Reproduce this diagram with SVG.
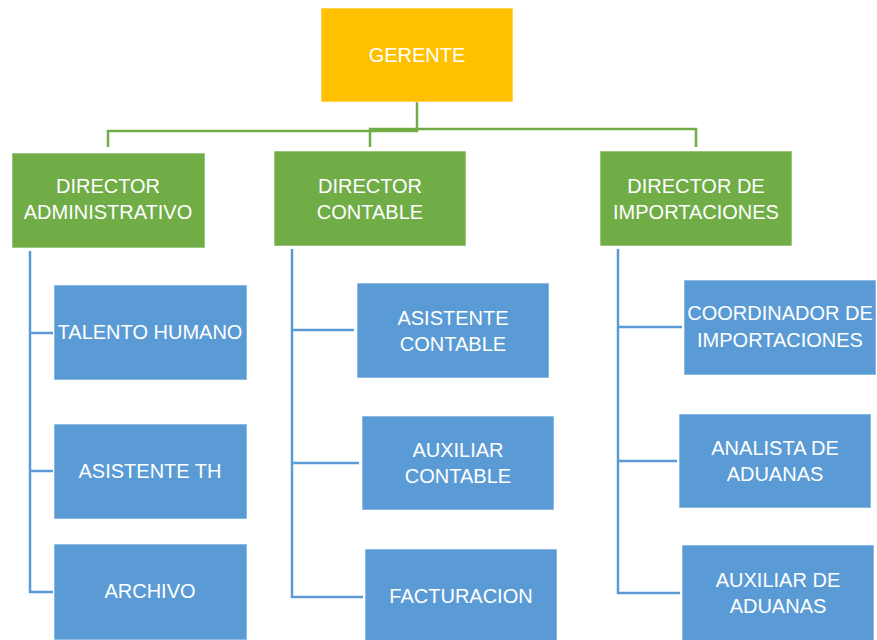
<svg xmlns="http://www.w3.org/2000/svg" width="877" height="640" viewBox="0 0 877 640">
<style>
.box{stroke:#ffffff;stroke-width:1;stroke-opacity:0.6}
.gold{fill:#FFC000}
.green{fill:#70AD47}
.blue{fill:#5B9BD5}
.t{font-family:"Liberation Sans",Arial,sans-serif;font-size:20px;fill:#ffffff;text-anchor:middle}
.gl{stroke:#70AD47;stroke-width:2.5;fill:none}
.bl{stroke:#5B9BD5;stroke-width:2.5;fill:none}
</style>
<rect width="877" height="640" fill="#ffffff"/>
<g id="connectors">
<path class="gl" d="M417,102 V131 H108 V147"/>
<path class="gl" d="M370,147 V129 H696 V147"/>
<path class="bl" d="M30,251 V592 H53 M30,333 H53 M30,471 H53"/>
<path class="bl" d="M292,249 V597 H363 M292,330 H354 M292,463 H359"/>
<path class="bl" d="M618,249 V593 H680 M618,327 H682 M618,461 H677"/>
</g>
<g id="gerente"><rect class="box gold" x="321" y="8" width="192" height="94"/><text class="t" x="417" y="62">GERENTE</text></g>
<g id="dir-admin"><rect class="box green" x="12" y="153" width="193" height="95"/><text class="t" x="108" y="193">DIRECTOR</text><text class="t" x="108" y="219">ADMINISTRATIVO</text></g>
<g id="dir-contable"><rect class="box green" x="274" y="151" width="192" height="95"/><text class="t" x="370" y="193">DIRECTOR</text><text class="t" x="370" y="219">CONTABLE</text></g>
<g id="dir-import"><rect class="box green" x="600" y="151" width="192" height="95"/><text class="t" x="696" y="193">DIRECTOR DE</text><text class="t" x="696" y="219">IMPORTACIONES</text></g>
<g id="talento"><rect class="box blue" x="54" y="285" width="193" height="95"/><text class="t" x="150" y="339">TALENTO HUMANO</text></g>
<g id="asistente-th"><rect class="box blue" x="54" y="424" width="193" height="95"/><text class="t" x="150" y="478">ASISTENTE TH</text></g>
<g id="archivo"><rect class="box blue" x="54" y="544" width="193" height="96"/><text class="t" x="150" y="598">ARCHIVO</text></g>
<g id="asistente-contable"><rect class="box blue" x="357" y="283" width="192" height="95"/><text class="t" x="453" y="325">ASISTENTE</text><text class="t" x="453" y="351">CONTABLE</text></g>
<g id="auxiliar-contable"><rect class="box blue" x="362" y="416" width="192" height="94"/><text class="t" x="458" y="457">AUXILIAR</text><text class="t" x="458" y="483">CONTABLE</text></g>
<g id="facturacion"><rect class="box blue" x="365" y="549" width="192" height="93"/><text class="t" x="461" y="603">FACTURACION</text></g>
<g id="coordinador"><rect class="box blue" x="684" y="280" width="192" height="95"/><text class="t" x="780" y="320">COORDINADOR DE</text><text class="t" x="780" y="347">IMPORTACIONES</text></g>
<g id="analista"><rect class="box blue" x="679" y="414" width="192" height="94"/><text class="t" x="775" y="455">ANALISTA DE</text><text class="t" x="775" y="481">ADUANAS</text></g>
<g id="auxiliar-aduanas"><rect class="box blue" x="682" y="545" width="192" height="97"/><text class="t" x="778" y="587">AUXILIAR DE</text><text class="t" x="778" y="613">ADUANAS</text></g>
</svg>
